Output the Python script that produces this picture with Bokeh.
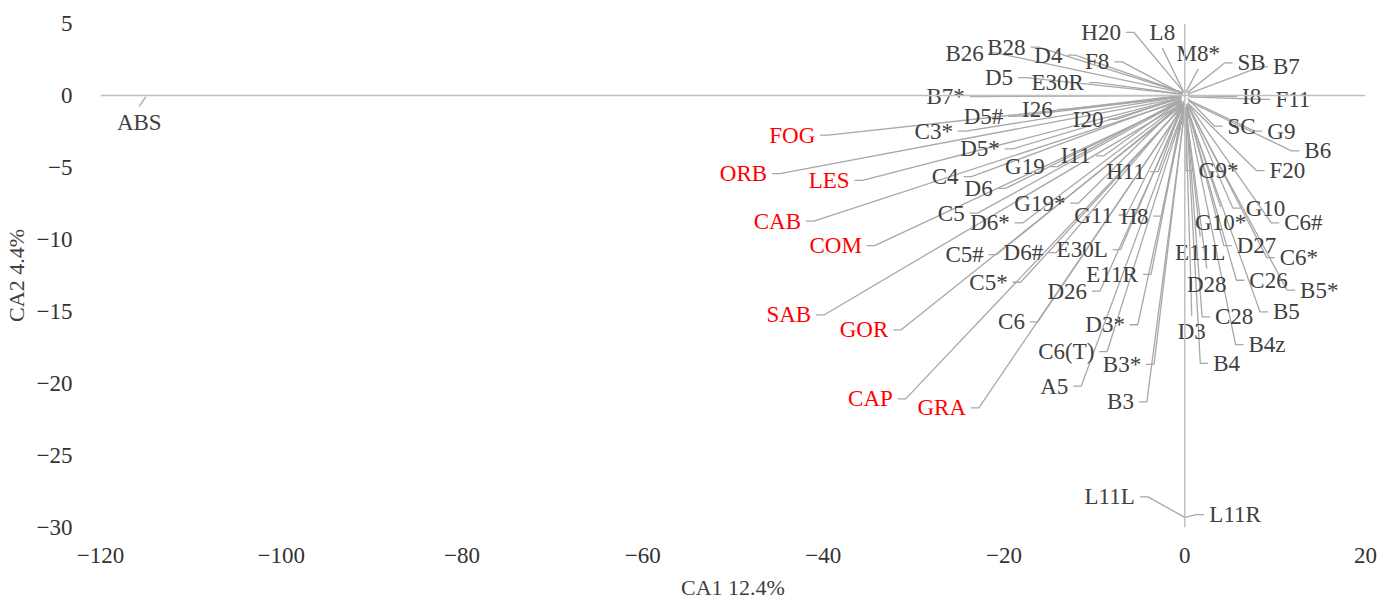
from bokeh.plotting import figure
from bokeh.models import Span, FixedTicker, ColumnDataSource
from bokeh.embed import file_html
from bokeh.resources import INLINE
from bokeh.core.properties import value

# ---------------- data ----------------
names = ["ABS", "H20", "L8", "M8*", "SB", "B7", "I8", "F11", "SC", "G9", "B6", "F20",
         "G9*", "H11", "I11", "G19", "C4", "D6", "D5*", "C3*", "D5#", "I26", "I20", "B7*",
         "D5", "E30R", "B26", "B28", "D4", "F8", "FOG", "ORB", "LES", "CAB", "COM", "C5",
         "D6*", "G19*", "G11", "H8", "C5#", "D6#", "E30L", "E11R", "C5*", "D26", "SAB", "GOR",
         "CAP", "GRA", "C6", "C6(T)", "A5", "D3*", "B3*", "B3", "G10", "C6#", "G10*", "E11L",
         "D27", "C6*", "D28", "C26", "B5*", "C28", "B5", "D3", "B4z", "B4", "L11L", "L11R"]

point_x = [-115.0, -0.2, -0.1, 0.1, 0.3, 0.3, 0.4, 0.4, 0.3, 0.4, 0.4, 0.3,
           0.2, -0.1, -0.3, -0.4, -0.5, -0.4, -0.4, -0.5, -0.4, -0.3, -0.3, -0.4,
           -0.3, -0.2, -0.3, -0.3, -0.2, -0.2, -0.6, -0.6, -0.5, -0.5, -0.4, -0.4,
           -0.3, -0.3, -0.2, -0.1, -0.3, -0.2, -0.2, -0.1, -0.2, -0.1, -0.4, -0.3,
           -0.3, -0.2, -0.2, -0.1, -0.1, 0.0, 0.0, 0.0, 0.3, 0.4, 0.2, 0.1,
           0.3, 0.4, 0.1, 0.3, 0.4, 0.2, 0.3, 0.1, 0.3, 0.2, 0.0, 0.0]

point_y = [-0.1, 0.3, 0.2, 0.2, 0.2, 0.1, 0.0, -0.1, -0.2, -0.3, -0.4, -0.5,
           -0.6, -0.4, -0.3, -0.3, -0.3, -0.4, -0.2, -0.1, -0.1, 0.0, -0.1, 0.0,
           0.1, 0.1, 0.2, 0.2, 0.2, 0.1, -0.1, -0.2, -0.2, -0.4, -0.5, -0.4,
           -0.5, -0.4, -0.5, -0.5, -0.6, -0.6, -0.6, -0.7, -0.7, -0.7, -0.6, -0.7,
           -0.8, -0.8, -0.8, -0.9, -0.9, -0.8, -0.9, -1.0, -0.6, -0.6, -0.7, -0.8,
           -0.8, -0.7, -0.9, -0.9, -0.8, -1.0, -1.0, -1.1, -1.1, -1.2, -29.3, -29.3]

label_x = [-115.71, -9.26, -2.48, 1.49, 7.39, 11.25, 7.39, 11.96, 6.28, 10.69, 14.72, 11.36,
           3.75, -6.56, -12.07, -17.70, -26.52, -22.82, -22.66, -27.78, -22.27, -16.32, -10.69, -26.46,
           -20.56, -14.06, -24.37, -19.74, -15.10, -9.70, -43.44, -48.84, -39.36, -45.09, -38.64, -25.85,
           -21.55, -16.04, -10.09, -5.57, -24.37, -17.86, -11.36, -8.05, -21.72, -13.01, -43.83, -35.50,
           -34.79, -26.90, -19.18, -13.12, -14.44, -8.82, -6.95, -7.11, 8.93, 13.12, 3.97, 1.71,
           7.94, 12.62, 2.43, 9.26, 14.88, 5.46, 11.25, 0.77, 9.10, 4.63, -8.32, 5.57]

label_y = [-1.85, 4.39, 4.39, 2.95, 2.26, 1.99, -0.07, -0.27, -2.13, -2.47, -3.84, -5.22,
           -5.22, -5.28, -4.19, -4.94, -5.63, -6.45, -3.71, -2.47, -1.44, -0.96, -1.65, -0.07,
           1.24, 0.89, 2.95, 3.36, 2.81, 2.33, -2.75, -5.42, -5.90, -8.72, -10.43, -8.17,
           -8.85, -7.48, -8.30, -8.37, -11.05, -10.91, -10.71, -12.42, -12.97, -13.59, -15.24, -16.27,
           -21.07, -21.69, -15.72, -17.78, -20.18, -15.92, -18.67, -21.28, -7.82, -8.85, -8.85, -10.91,
           -10.43, -11.26, -13.11, -12.83, -13.52, -15.37, -15.03, -16.40, -17.30, -18.60, -27.87, -29.10]

red_labels = ["FOG", "ORB", "LES", "CAB", "COM", "SAB", "GOR", "CAP", "GRA"]

x_ticks = [-120, -100, -80, -60, -40, -20, 0, 20]
x_tick_labels = ["\u2212120", "\u2212100", "\u221280", "\u221260", "\u221240", "\u221220", "0", "20"]
y_ticks = [-30, -25, -20, -15, -10, -5, 0, 5]
y_tick_labels = ["\u221230", "\u221225", "\u221220", "\u221215", "\u221210", "\u22125", "0", "5"]

x_title = "CA1 12.4%"
y_title = "CA2 4.4%"

# ---------------- style / layout ----------------
FONT = "Liberation Serif"
LABEL_SIZE = 23
X_START, X_END = -120, 20
Y_START, Y_END = -30, 5
FRAME_W, FRAME_H = 1270, 510
DXU = (X_END - X_START) / FRAME_W   # data units per pixel
DYU = (Y_END - Y_START) / FRAME_H

CHAR_W = {"A": .722, "B": .667, "C": .667, "D": .722, "E": .611, "F": .556, "G": .722,
          "H": .722, "I": .333, "L": .611, "M": .889, "O": .722, "P": .556, "R": .667,
          "S": .556, "T": .611, "z": .444, "*": .5, "#": .5, "(": .333, ")": .333}


def text_w(s):
    return sum(CHAR_W.get(c, .5) for c in s) * LABEL_SIZE


GAP, ELBOW, VOFF = 5, 8, 16
xs, ys = [], []
for nm, px, py, cx, cy in zip(names, point_x, point_y, label_x, label_y):
    half = text_w(nm) / 2 * DXU
    left, right = cx - half, cx + half
    if px > right + 12 * DXU:
        sx = right + GAP * DXU
        xs.append([sx, sx + ELBOW * DXU, px]); ys.append([cy, cy, py])
    elif px < left - 12 * DXU:
        sx = left - GAP * DXU
        xs.append([sx, sx - ELBOW * DXU, px]); ys.append([cy, cy, py])
    else:
        sy = cy - VOFF * DYU if py < cy else cy + VOFF * DYU
        xs.append([cx, px]); ys.append([sy, py])

colors = ["#ff0000" if n in red_labels else "#404040" for n in names]

W, H = 1378, 602
p = figure(width=W, height=H, x_range=(X_START, X_END), y_range=(Y_START, Y_END),
           output_backend="svg", toolbar_location=None,
           min_border_left=95, min_border_right=W - 95 - FRAME_W,
           min_border_top=23, min_border_bottom=H - 23 - FRAME_H)
p.outline_line_color = None
p.grid.grid_line_color = None
p.background_fill_color = "white"

p.add_layout(Span(location=0, dimension="width", line_color="#c0c0c0", line_width=1.5))
p.add_layout(Span(location=0, dimension="height", line_color="#c0c0c0", line_width=1.5))

p.multi_line(xs, ys, line_color="#a8a8a8", line_width=1.3)

src = ColumnDataSource(dict(x=label_x, y=label_y, t=names, c=colors))
p.text("x", "y", text="t", source=src, text_color="c", text_font=value(FONT),
       text_font_size=f"{LABEL_SIZE}px", text_align="center", text_baseline="middle")

for ax in (p.xaxis[0], p.yaxis[0]):
    ax.axis_line_color = None
    ax.major_tick_line_color = None
    ax.minor_tick_line_color = None
    ax.major_label_text_font = FONT
    ax.major_label_text_font_size = "23px"
    ax.major_label_text_color = "#333333"
    ax.axis_label_text_font = FONT
    ax.axis_label_text_font_size = "22px"
    ax.axis_label_text_font_style = "normal"
    ax.axis_label_text_color = "#404040"

p.xaxis.ticker = FixedTicker(ticks=x_ticks)
p.xaxis.major_label_overrides = dict(zip(x_ticks, x_tick_labels))
p.yaxis.ticker = FixedTicker(ticks=y_ticks)
p.yaxis.major_label_overrides = dict(zip(y_ticks, y_tick_labels))
p.xaxis.axis_label = x_title
p.yaxis.axis_label = y_title
p.xaxis.major_label_standoff = 14
p.xaxis.axis_label_standoff = 9
p.yaxis.major_label_standoff = 22
p.yaxis.axis_label_standoff = 5

open("out.html", "w").write(file_html(p, INLINE))
